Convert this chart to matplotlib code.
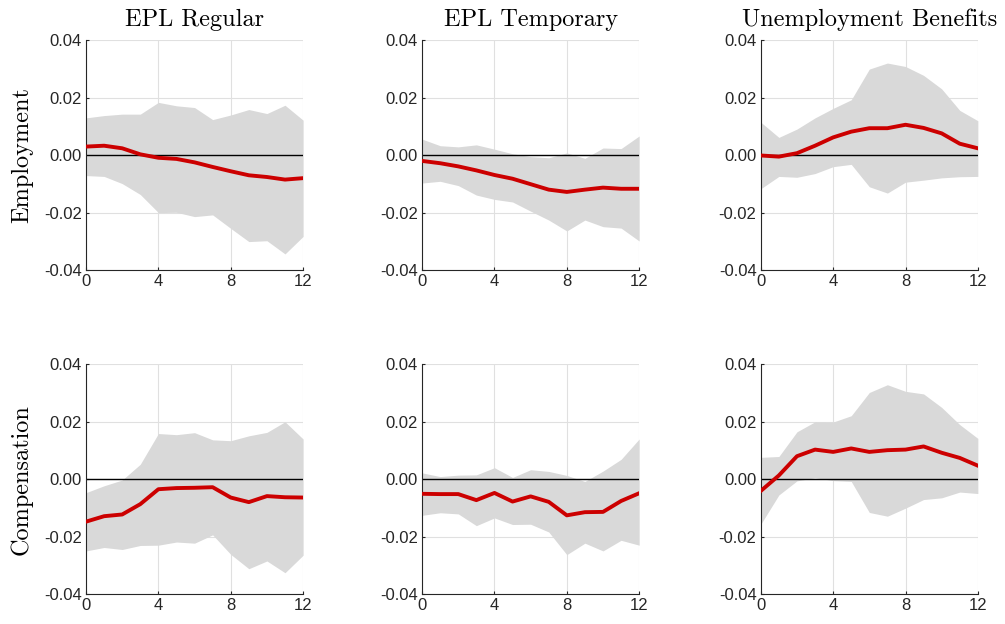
import numpy as np
import matplotlib
matplotlib.use("Agg")
from matplotlib import pyplot as plt

# horizon (quarters)
horizon = np.arange(13)

col_titles = ["EPL Regular", "EPL Temporary", "Unemployment Benefits"]
row_titles = ["Employment", "Compensation"]

# Employment responses
emp_reg_mid = [0.0030, 0.0033, 0.0024, 0.0003, -0.0009, -0.0013, -0.0025, -0.0041, -0.0056, -0.0070, -0.0076, -0.0085, -0.0080]
emp_reg_hi = [0.0130, 0.0138, 0.0143, 0.0143, 0.0184, 0.0172, 0.0166, 0.0124, 0.0140, 0.0159, 0.0145, 0.0174, 0.0122]
emp_reg_lo = [-0.0071, -0.0074, -0.0099, -0.0137, -0.0200, -0.0199, -0.0214, -0.0208, -0.0255, -0.0301, -0.0298, -0.0344, -0.0283]

emp_tmp_mid = [-0.0020, -0.0028, -0.0039, -0.0053, -0.0069, -0.0082, -0.0101, -0.0120, -0.0128, -0.0120, -0.0113, -0.0117, -0.0117]
emp_tmp_hi = [0.0056, 0.0033, 0.0029, 0.0036, 0.0021, 0.0005, -0.0005, -0.0009, 0.0008, -0.0011, 0.0025, 0.0023, 0.0067]
emp_tmp_lo = [-0.0097, -0.0091, -0.0106, -0.0139, -0.0154, -0.0163, -0.0195, -0.0226, -0.0264, -0.0226, -0.0249, -0.0254, -0.0299]

emp_ub_mid = [-0.0001, -0.0005, 0.0007, 0.0033, 0.0062, 0.0082, 0.0094, 0.0094, 0.0106, 0.0095, 0.0076, 0.0040, 0.0024]
emp_ub_hi = [0.0115, 0.0062, 0.0091, 0.0130, 0.0163, 0.0193, 0.0300, 0.0321, 0.0309, 0.0278, 0.0231, 0.0156, 0.0120]
emp_ub_lo = [-0.0117, -0.0074, -0.0077, -0.0064, -0.0040, -0.0032, -0.0110, -0.0132, -0.0094, -0.0087, -0.0079, -0.0075, -0.0074]

# Compensation responses
comp_reg_mid = [-0.0148, -0.0129, -0.0123, -0.0087, -0.0035, -0.0031, -0.0030, -0.0028, -0.0064, -0.0080, -0.0059, -0.0063, -0.0064]
comp_reg_hi = [-0.0047, -0.0023, -0.0003, 0.0052, 0.0159, 0.0155, 0.0162, 0.0137, 0.0134, 0.0151, 0.0163, 0.0200, 0.0140]
comp_reg_lo = [-0.0250, -0.0238, -0.0245, -0.0231, -0.0230, -0.0219, -0.0223, -0.0194, -0.0262, -0.0312, -0.0285, -0.0326, -0.0265]

comp_tmp_mid = [-0.0051, -0.0052, -0.0052, -0.0073, -0.0048, -0.0078, -0.0060, -0.0079, -0.0126, -0.0115, -0.0114, -0.0076, -0.0049]
comp_tmp_hi = [0.0022, 0.0009, 0.0014, 0.0015, 0.0040, 0.0006, 0.0033, 0.0027, 0.0013, -0.0008, 0.0028, 0.0069, 0.0140]
comp_tmp_lo = [-0.0126, -0.0117, -0.0121, -0.0162, -0.0135, -0.0158, -0.0157, -0.0184, -0.0263, -0.0223, -0.0250, -0.0213, -0.0230]

comp_ub_mid = [-0.0041, 0.0013, 0.0080, 0.0103, 0.0095, 0.0107, 0.0095, 0.0101, 0.0103, 0.0114, 0.0092, 0.0074, 0.0047]
comp_ub_hi = [0.0076, 0.0079, 0.0165, 0.0200, 0.0199, 0.0221, 0.0302, 0.0329, 0.0306, 0.0297, 0.0250, 0.0190, 0.0142]
comp_ub_lo = [-0.0157, -0.0055, -0.0006, 0.0005, -0.0005, -0.0008, -0.0116, -0.0129, -0.0101, -0.0071, -0.0065, -0.0045, -0.0050]

panels = [
    [(emp_reg_mid, emp_reg_lo, emp_reg_hi), (emp_tmp_mid, emp_tmp_lo, emp_tmp_hi), (emp_ub_mid, emp_ub_lo, emp_ub_hi)],
    [(comp_reg_mid, comp_reg_lo, comp_reg_hi), (comp_tmp_mid, comp_tmp_lo, comp_tmp_hi), (comp_ub_mid, comp_ub_lo, comp_ub_hi)],
]

x_ticks = [0, 4, 8, 12]
y_ticks = [-0.04, -0.02, 0.0, 0.02, 0.04]
y_tick_labels = ["-0.04", "-0.02", "0.00", "0.02", "0.04"]

plt.rcParams["axes.unicode_minus"] = False
plt.rcParams["font.family"] = ["Liberation Sans", "DejaVu Sans"]

fig = plt.figure(figsize=(10.05, 6.24), dpi=100)

lefts = [0.0856, 0.420, 0.757]
bottoms = [0.5673, 0.0481]
width = 0.216
height = 0.368

for r in range(2):
    for c in range(3):
        ax = fig.add_axes([lefts[c], bottoms[r], width, height])
        mid, lo, hi = panels[r][c]
        ax.fill_between(horizon, lo, hi, color="#d9d9d9", linewidth=0, zorder=1)
        ax.axhline(0, color="black", linewidth=1.0, zorder=2)
        ax.plot(horizon, mid, color="#cc0000", linewidth=2.8, zorder=3)

        ax.set_xlim(0, 12)
        ax.set_ylim(-0.04, 0.04)
        ax.set_xticks(x_ticks)
        ax.set_yticks(y_ticks)
        ax.set_yticklabels(y_tick_labels)
        ax.tick_params(direction="in", labelsize=12, length=2.5, width=0.8, pad=3,
                       colors="#262626", labelcolor="#262626")
        ax.grid(True, color="#e0e0e0", linewidth=0.8)
        ax.set_axisbelow(True)
        for side in ["top", "right"]:
            ax.spines[side].set_visible(False)
        for side in ["left", "bottom"]:
            ax.spines[side].set_color("#262626")
            ax.spines[side].set_linewidth(0.8)

        if r == 0:
            ax.set_title(col_titles[c], family="cmr10", fontsize=17.5, pad=10)
        if c == 0:
            ax.set_ylabel(row_titles[r], family="cmr10", fontsize=17.5, labelpad=8)

fig.savefig("out.png", dpi=100)
